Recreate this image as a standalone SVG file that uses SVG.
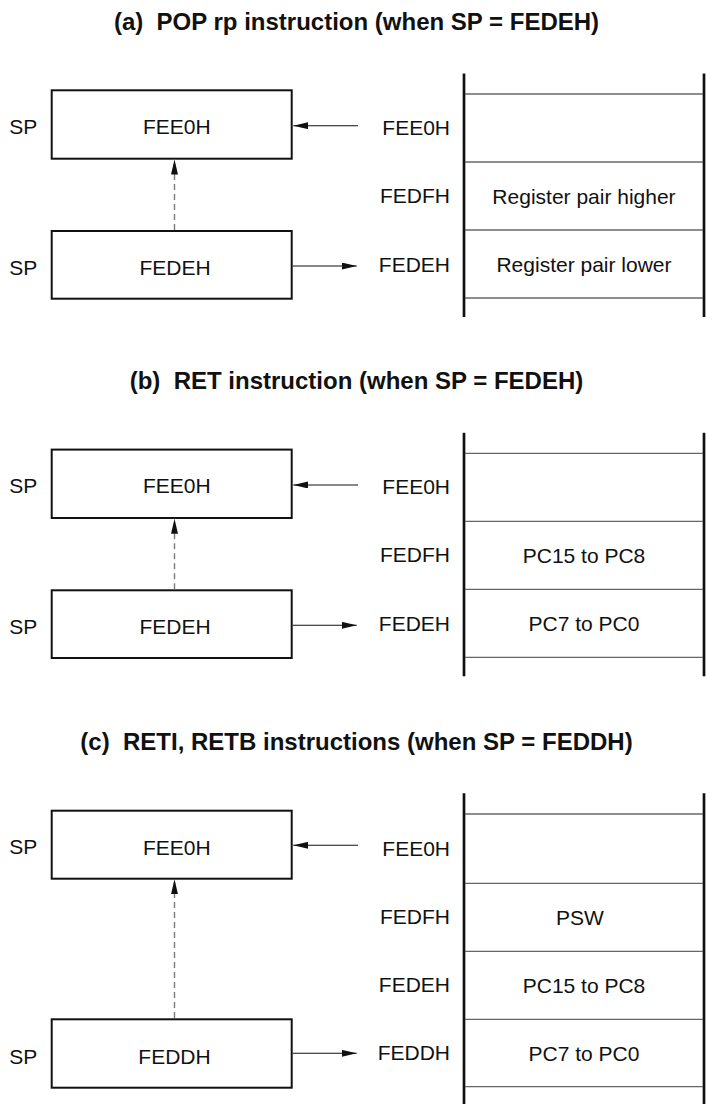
<svg xmlns="http://www.w3.org/2000/svg" width="707" height="1104" viewBox="0 0 707 1104">
<style>
.t{font-family:"Liberation Sans",Arial,sans-serif;font-size:21px;fill:#111}
.title{font-family:"Liberation Sans",Arial,sans-serif;font-size:24px;font-weight:bold;fill:#111;text-anchor:middle;white-space:pre}
.box{fill:none;stroke:#111;stroke-width:2}
.wall{stroke:#111;stroke-width:2.7;fill:none}
.row{stroke:#666;stroke-width:1.3;fill:none}
.arr{stroke:#111;stroke-width:1.1;fill:none}
.dash{stroke:#7a7a7a;stroke-width:1.4;stroke-dasharray:6 4;fill:none}
.e{text-anchor:end}
.m{text-anchor:middle}
</style>
<defs>
<marker id="ah" viewBox="0 0 15 7" refX="15" refY="3.5" markerWidth="15" markerHeight="7" markerUnits="userSpaceOnUse" orient="auto">
<path d="M0,0 L15,3.5 L0,7 z" fill="#111"/>
</marker>
</defs>

<!-- Section (a) -->
<g id="section-a">
<text id="title-a" class="title" x="356.5" y="30">(a)  POP rp instruction (when SP = FEDEH)</text>
<g id="a-sp-new">
<text class="t" x="9.3" y="134">SP</text>
<rect class="box" x="51.7" y="90.3" width="240" height="68.4"/>
<text class="t e" x="210.7" y="134">FEE0H</text>
</g>
<g id="a-sp-old">
<text class="t" x="9.3" y="275">SP</text>
<rect class="box" x="51.7" y="231" width="240" height="67.7"/>
<text class="t e" x="210.7" y="275">FEDEH</text>
</g>
<g id="a-stack">
<line class="wall" x1="464" y1="73.5" x2="464" y2="317"/>
<line class="wall" x1="704" y1="73.5" x2="704" y2="317"/>
<line class="row" x1="465" y1="94" x2="703" y2="94"/>
<line class="row" x1="465" y1="162" x2="703" y2="162"/>
<line class="row" x1="465" y1="230" x2="703" y2="230"/>
<line class="row" x1="465" y1="298" x2="703" y2="298"/>
<text class="t e" x="450" y="135">FEE0H</text>
<text class="t e" x="450" y="203">FEDFH</text>
<text class="t e" x="450" y="271.5">FEDEH</text>
<text class="t m" x="584" y="203.5">Register pair higher</text>
<text class="t m" x="584" y="271.5">Register pair lower</text>
</g>
<g id="a-connectors">
<line class="arr" x1="358" y1="125.7" x2="293.3" y2="125.7" marker-end="url(#ah)"/>
<line class="arr" x1="292.7" y1="266" x2="356.7" y2="266" marker-end="url(#ah)"/>
<line class="dash" x1="174.5" y1="230" x2="174.5" y2="159.5" marker-end="url(#ah)"/>
</g>
</g>

<!-- Section (b) -->
<g id="section-b" transform="translate(0,359.3)">
<text id="title-b" class="title" x="356.5" y="30">(b)  RET instruction (when SP = FEDEH)</text>
<g id="b-sp-new">
<text class="t" x="9.3" y="134">SP</text>
<rect class="box" x="51.7" y="90.3" width="240" height="68.4"/>
<text class="t e" x="210.7" y="134">FEE0H</text>
</g>
<g id="b-sp-old">
<text class="t" x="9.3" y="275">SP</text>
<rect class="box" x="51.7" y="231" width="240" height="67.7"/>
<text class="t e" x="210.7" y="275">FEDEH</text>
</g>
<g id="b-stack">
<line class="wall" x1="464" y1="73.5" x2="464" y2="317"/>
<line class="wall" x1="704" y1="73.5" x2="704" y2="317"/>
<line class="row" x1="465" y1="94" x2="703" y2="94"/>
<line class="row" x1="465" y1="162" x2="703" y2="162"/>
<line class="row" x1="465" y1="230" x2="703" y2="230"/>
<line class="row" x1="465" y1="298" x2="703" y2="298"/>
<text class="t e" x="450" y="135">FEE0H</text>
<text class="t e" x="450" y="203">FEDFH</text>
<text class="t e" x="450" y="271.5">FEDEH</text>
<text class="t m" x="584" y="203.5">PC15 to PC8</text>
<text class="t m" x="584" y="271.5">PC7 to PC0</text>
</g>
<g id="b-connectors">
<line class="arr" x1="358" y1="125.7" x2="293.3" y2="125.7" marker-end="url(#ah)"/>
<line class="arr" x1="292.7" y1="266" x2="356.7" y2="266" marker-end="url(#ah)"/>
<line class="dash" x1="174.5" y1="230" x2="174.5" y2="159.5" marker-end="url(#ah)"/>
</g>
</g>

<!-- Section (c) -->
<g id="section-c" transform="translate(0,720)">
<text id="title-c" class="title" x="356.5" y="30">(c)  RETI, RETB instructions (when SP = FEDDH)</text>
<g id="c-sp-new">
<text class="t" x="9.3" y="134">SP</text>
<rect class="box" x="51.7" y="90.7" width="240" height="68"/>
<text class="t e" x="210.7" y="134.5">FEE0H</text>
</g>
<g id="c-sp-old">
<text class="t" x="9.3" y="343.5">SP</text>
<rect class="box" x="51.7" y="299.3" width="240" height="68.4"/>
<text class="t e" x="210.7" y="343.5">FEDDH</text>
</g>
<g id="c-stack">
<line class="wall" x1="464" y1="73.3" x2="464" y2="384"/>
<line class="wall" x1="704" y1="73.3" x2="704" y2="384"/>
<line class="row" x1="465" y1="94" x2="703" y2="94"/>
<line class="row" x1="465" y1="163.3" x2="703" y2="163.3"/>
<line class="row" x1="465" y1="231.3" x2="703" y2="231.3"/>
<line class="row" x1="465" y1="299.3" x2="703" y2="299.3"/>
<line class="row" x1="465" y1="366.7" x2="703" y2="366.7"/>
<text class="t e" x="450" y="135.5">FEE0H</text>
<text class="t e" x="450" y="204">FEDFH</text>
<text class="t e" x="450" y="272.3">FEDEH</text>
<text class="t e" x="450" y="340">FEDDH</text>
<text class="t m" x="580" y="204.5">PSW</text>
<text class="t m" x="584" y="272.5">PC15 to PC8</text>
<text class="t m" x="584" y="340.5">PC7 to PC0</text>
</g>
<g id="c-connectors">
<line class="arr" x1="358" y1="125.3" x2="293.3" y2="125.3" marker-end="url(#ah)"/>
<line class="arr" x1="292.7" y1="333.3" x2="356.7" y2="333.3" marker-end="url(#ah)"/>
<line class="dash" x1="174.5" y1="298" x2="174.5" y2="159.3" marker-end="url(#ah)"/>
</g>
</g>
</svg>
